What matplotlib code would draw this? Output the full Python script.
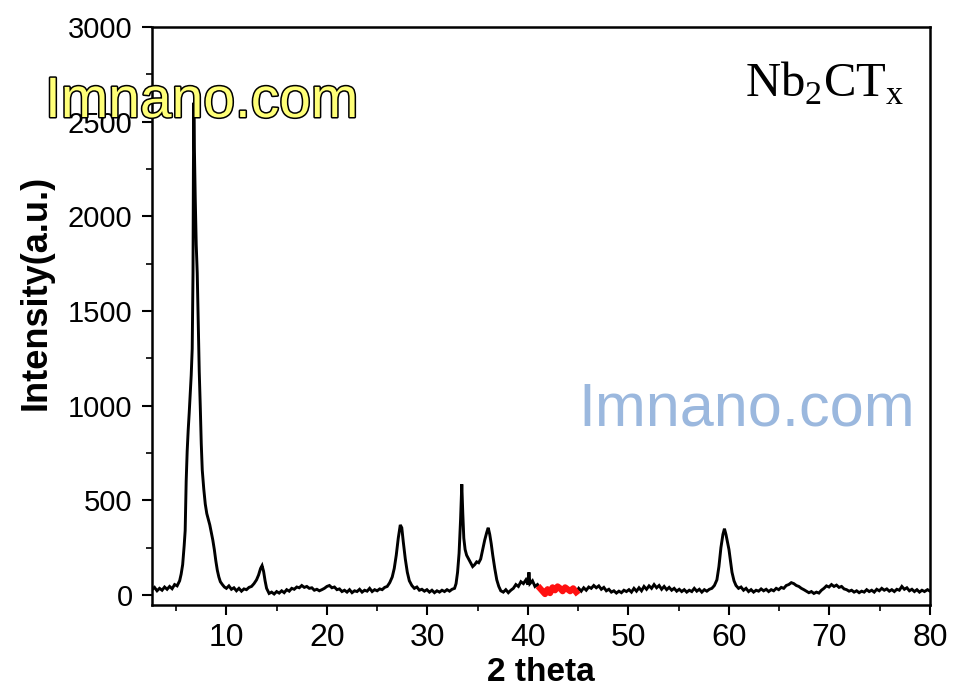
import matplotlib
matplotlib.use("Agg")
import matplotlib.pyplot as plt
import matplotlib.patheffects as pe
import numpy as np

# ---- data ----
two_theta = [
    2.6, 2.85, 3.1, 3.35, 3.6, 3.85, 4.1, 4.35, 4.6, 4.85, 5.1, 5.35, 5.5,
    5.65, 5.8, 5.9, 6.0, 6.1, 6.2, 6.3, 6.4, 6.5, 6.6, 6.68, 6.72, 6.76, 6.82, 6.9,
    7.0, 7.1, 7.25, 7.3, 7.4, 7.5, 7.6, 7.75, 7.9, 8.05, 8.2, 8.35, 8.5, 8.65,
    8.8, 8.95, 9.1, 9.25, 9.4, 9.6, 9.8, 10.0, 10.25, 10.5, 10.75, 11.0, 11.25,
    11.5, 11.75, 12.0, 12.25, 12.5, 12.75, 13.0, 13.2, 13.4, 13.55, 13.7, 13.85,
    14.0, 14.25, 14.5, 14.75, 15.0, 15.25, 15.5, 15.75, 16.0, 16.25, 16.5, 16.75,
    17.0, 17.25, 17.5, 17.75, 18.0, 18.25, 18.5, 18.75, 19.0, 19.25, 19.5, 19.75,
    20.0, 20.25, 20.5, 20.75, 21.0, 21.25, 21.5, 21.75, 22.0, 22.25, 22.5, 22.75,
    23.0, 23.25, 23.5, 23.75, 24.0, 24.25, 24.5, 24.75, 25.0, 25.25, 25.5, 25.75,
    26.0, 26.25, 26.5, 26.7, 26.9, 27.1, 27.3, 27.45, 27.6, 27.8, 28.0, 28.2,
    28.45, 28.7, 28.95, 29.2, 29.45, 29.7, 29.95, 30.2, 30.45, 30.7, 30.95, 31.2,
    31.45, 31.7, 31.95, 32.2, 32.45, 32.7, 32.85, 33.0, 33.15, 33.3, 33.42, 33.52,
    33.62, 33.75, 33.9, 34.1, 34.3, 34.5, 34.7, 34.9, 35.1, 35.3, 35.5, 35.7,
    35.9, 36.05, 36.2, 36.35, 36.5, 36.7, 36.9, 37.1, 37.3, 37.55, 37.8, 38.05,
    38.3, 38.55, 38.8, 39.05, 39.3, 39.55, 39.8, 40.0, 40.1, 40.2, 40.45, 40.7,
    40.95, 41.2, 41.45, 41.7, 41.95, 42.2, 42.45, 42.7, 42.95, 43.2, 43.45, 43.7,
    43.95, 44.2, 44.5, 44.8, 45.05, 45.3, 45.55, 45.8, 46.05, 46.3, 46.55, 46.8,
    47.05, 47.3, 47.55, 47.8, 48.05, 48.3, 48.55, 48.8, 49.05, 49.3, 49.55, 49.8,
    50.05, 50.3, 50.55, 50.8, 51.05, 51.3, 51.55, 51.8, 52.05, 52.3, 52.55, 52.8,
    53.05, 53.3, 53.55, 53.8, 54.05, 54.3, 54.55, 54.8, 55.05, 55.3, 55.55, 55.8,
    56.05, 56.3, 56.55, 56.8, 57.05, 57.3, 57.55, 57.8, 58.05, 58.3, 58.55, 58.8,
    59.0, 59.2, 59.4, 59.55, 59.7, 59.85, 60.0, 60.15, 60.3, 60.5, 60.7, 60.95,
    61.2, 61.45, 61.7, 61.95, 62.2, 62.45, 62.7, 62.95, 63.2, 63.45, 63.7, 63.95,
    64.2, 64.45, 64.7, 64.95, 65.2, 65.45, 65.7, 65.95, 66.2, 66.45, 66.7, 66.95,
    67.2, 67.45, 67.7, 67.95, 68.2, 68.45, 68.7, 68.95, 69.2, 69.45, 69.7, 69.95,
    70.2, 70.45, 70.7, 70.95, 71.2, 71.45, 71.7, 71.95, 72.2, 72.45, 72.7, 72.95,
    73.2, 73.45, 73.7, 73.95, 74.2, 74.45, 74.7, 74.95, 75.2, 75.45, 75.7, 75.95,
    76.2, 76.45, 76.7, 76.95, 77.2, 77.45, 77.7, 77.95, 78.2, 78.45, 78.7, 78.95,
    79.2, 79.45, 79.75, 80.0,
]
intensity = [
    28, 40, 22, 35, 25, 42, 30, 45, 33, 55, 48, 75, 110,
    160, 260, 340, 600, 760, 870, 960, 1060, 1160, 1300, 1700, 2250, 2600, 2350, 2100,
    1850, 1700, 1300, 1180, 1000, 800, 660, 560, 480, 430, 400, 370, 330, 290,
    240, 180, 130, 95, 70, 55, 42, 35, 48, 30, 38, 22, 35,
    20, 32, 28, 40, 45, 60, 80, 105, 140, 155, 125, 75,
    35, 8, 15, 5, 18, 10, 22, 12, 28, 20, 35, 30,
    42, 38, 50, 40, 45, 35, 38, 25, 30, 22, 28, 35,
    45, 50, 38, 42, 28, 32, 18, 25, 15, 28, 12, 22,
    18, 30, 15, 25, 20, 35, 18, 28, 22, 32, 28, 40,
    45, 65, 95, 140, 210, 300, 370, 355, 280, 190, 120, 75,
    50, 35, 42, 25, 30, 20, 28, 15, 25, 12, 22, 15,
    25, 18, 28, 20, 30, 35, 60, 120, 220, 400, 585, 430,
    300, 240, 210, 190, 170, 150, 160, 175, 170, 190, 240, 290,
    330, 355, 320, 270, 210, 140, 80, 45, 22, 15, 28, 12,
    25, 35, 55, 45, 70, 60, 80, 55, 120, 60, 75, 45,
    55, 35, 20, 5, 30, 10, 40, 25, 45, 35, 20, 40,
    30, 20, 35, 15, 35, 20, 38, 25, 42, 35, 50, 38,
    48, 30, 40, 22, 30, 15, 22, 10, 20, 12, 25, 18,
    28, 15, 35, 20, 38, 22, 45, 30, 48, 35, 55, 38,
    50, 30, 45, 28, 40, 25, 35, 20, 30, 18, 28, 15,
    25, 18, 35, 20, 30, 15, 28, 20, 30, 35, 50, 80,
    150, 250, 320, 350, 320, 280, 240, 180, 120, 75, 50, 35,
    42, 25, 35, 18, 28, 15, 25, 20, 32, 22, 30, 18,
    28, 22, 35, 28, 40, 35, 50, 55, 65, 60, 50, 45,
    35, 28, 20, 12, 18, 8, 15, 10, 25, 35, 48, 42,
    55, 45, 52, 40, 45, 32, 28, 20, 25, 15, 22, 12,
    20, 15, 28, 18, 25, 15, 30, 22, 35, 25, 32, 20,
    28, 18, 30, 25, 45, 30, 38, 22, 30, 18, 28, 15,
    25, 18, 28, 20,
]
red_range = (41.2, 44.8)

x_ticks = [10, 20, 30, 40, 50, 60, 70, 80]
y_ticks = [0, 500, 1000, 1500, 2000, 2500, 3000]

# ---- figure ----
fig = plt.figure(figsize=(9.57, 6.93), dpi=100)
ax = fig.add_axes([152/957, 1-605/693, (930-152)/957, (605-27)/693])

tt = np.array(two_theta)
ii = np.array(intensity)
ax.plot(tt, ii, color="black", lw=2.1, solid_joinstyle="miter")
m = (tt >= red_range[0]) & (tt <= red_range[1])
ax.plot(tt[m], ii[m], color="#ff1010", lw=4.5)

ax.set_xlim(2.6, 80)
ax.set_ylim(-53, 3000)
ax.set_xticks(x_ticks)
ax.set_yticks(y_ticks)
ax.set_xticks(np.arange(5, 80, 10), minor=True)
ax.set_yticks(np.arange(250, 3000, 500), minor=True)
ax.tick_params(which="major", direction="out", length=7, width=1.5)
ax.tick_params(which="minor", direction="out", length=4, width=1.2)
ax.tick_params(axis="x", which="major", labelsize=23, pad=6)
ax.tick_params(axis="y", which="major", labelsize=21, pad=7)
for lab in ax.get_xticklabels() + ax.get_yticklabels():
    lab.set_fontfamily("Liberation Sans")
for s in ax.spines.values():
    s.set_linewidth(1.8)

ax.set_xlabel("2 theta", fontsize=24, fontweight="bold", family="Liberation Sans", labelpad=3)
ax.set_ylabel("Intensity(a.u.)", fontsize=26, fontweight="bold", family="Liberation Sans")
ax.yaxis.set_label_coords(-0.127, 0.54)

plt.rcParams["mathtext.fontset"] = "custom"
plt.rcParams["mathtext.rm"] = "Liberation Serif"
fig.text(745/957, 1-97/693, r"Nb$_\mathregular{2}$CT$_\mathregular{x}$",
         family="Liberation Serif", fontsize=35, va="baseline", ha="left")

fig.text(45/957, 1-117/693, "Imnano.com", family="Liberation Sans", fontsize=41,
         color="#ffff77", va="baseline", ha="left",
         path_effects=[pe.withStroke(linewidth=2.2, foreground="black")])
fig.text(578/957, 1-426/693, "Imnano.com", family="Liberation Sans", fontsize=44,
         color="#9bb8de", va="baseline", ha="left")

fig.savefig("out.png", dpi=100)
